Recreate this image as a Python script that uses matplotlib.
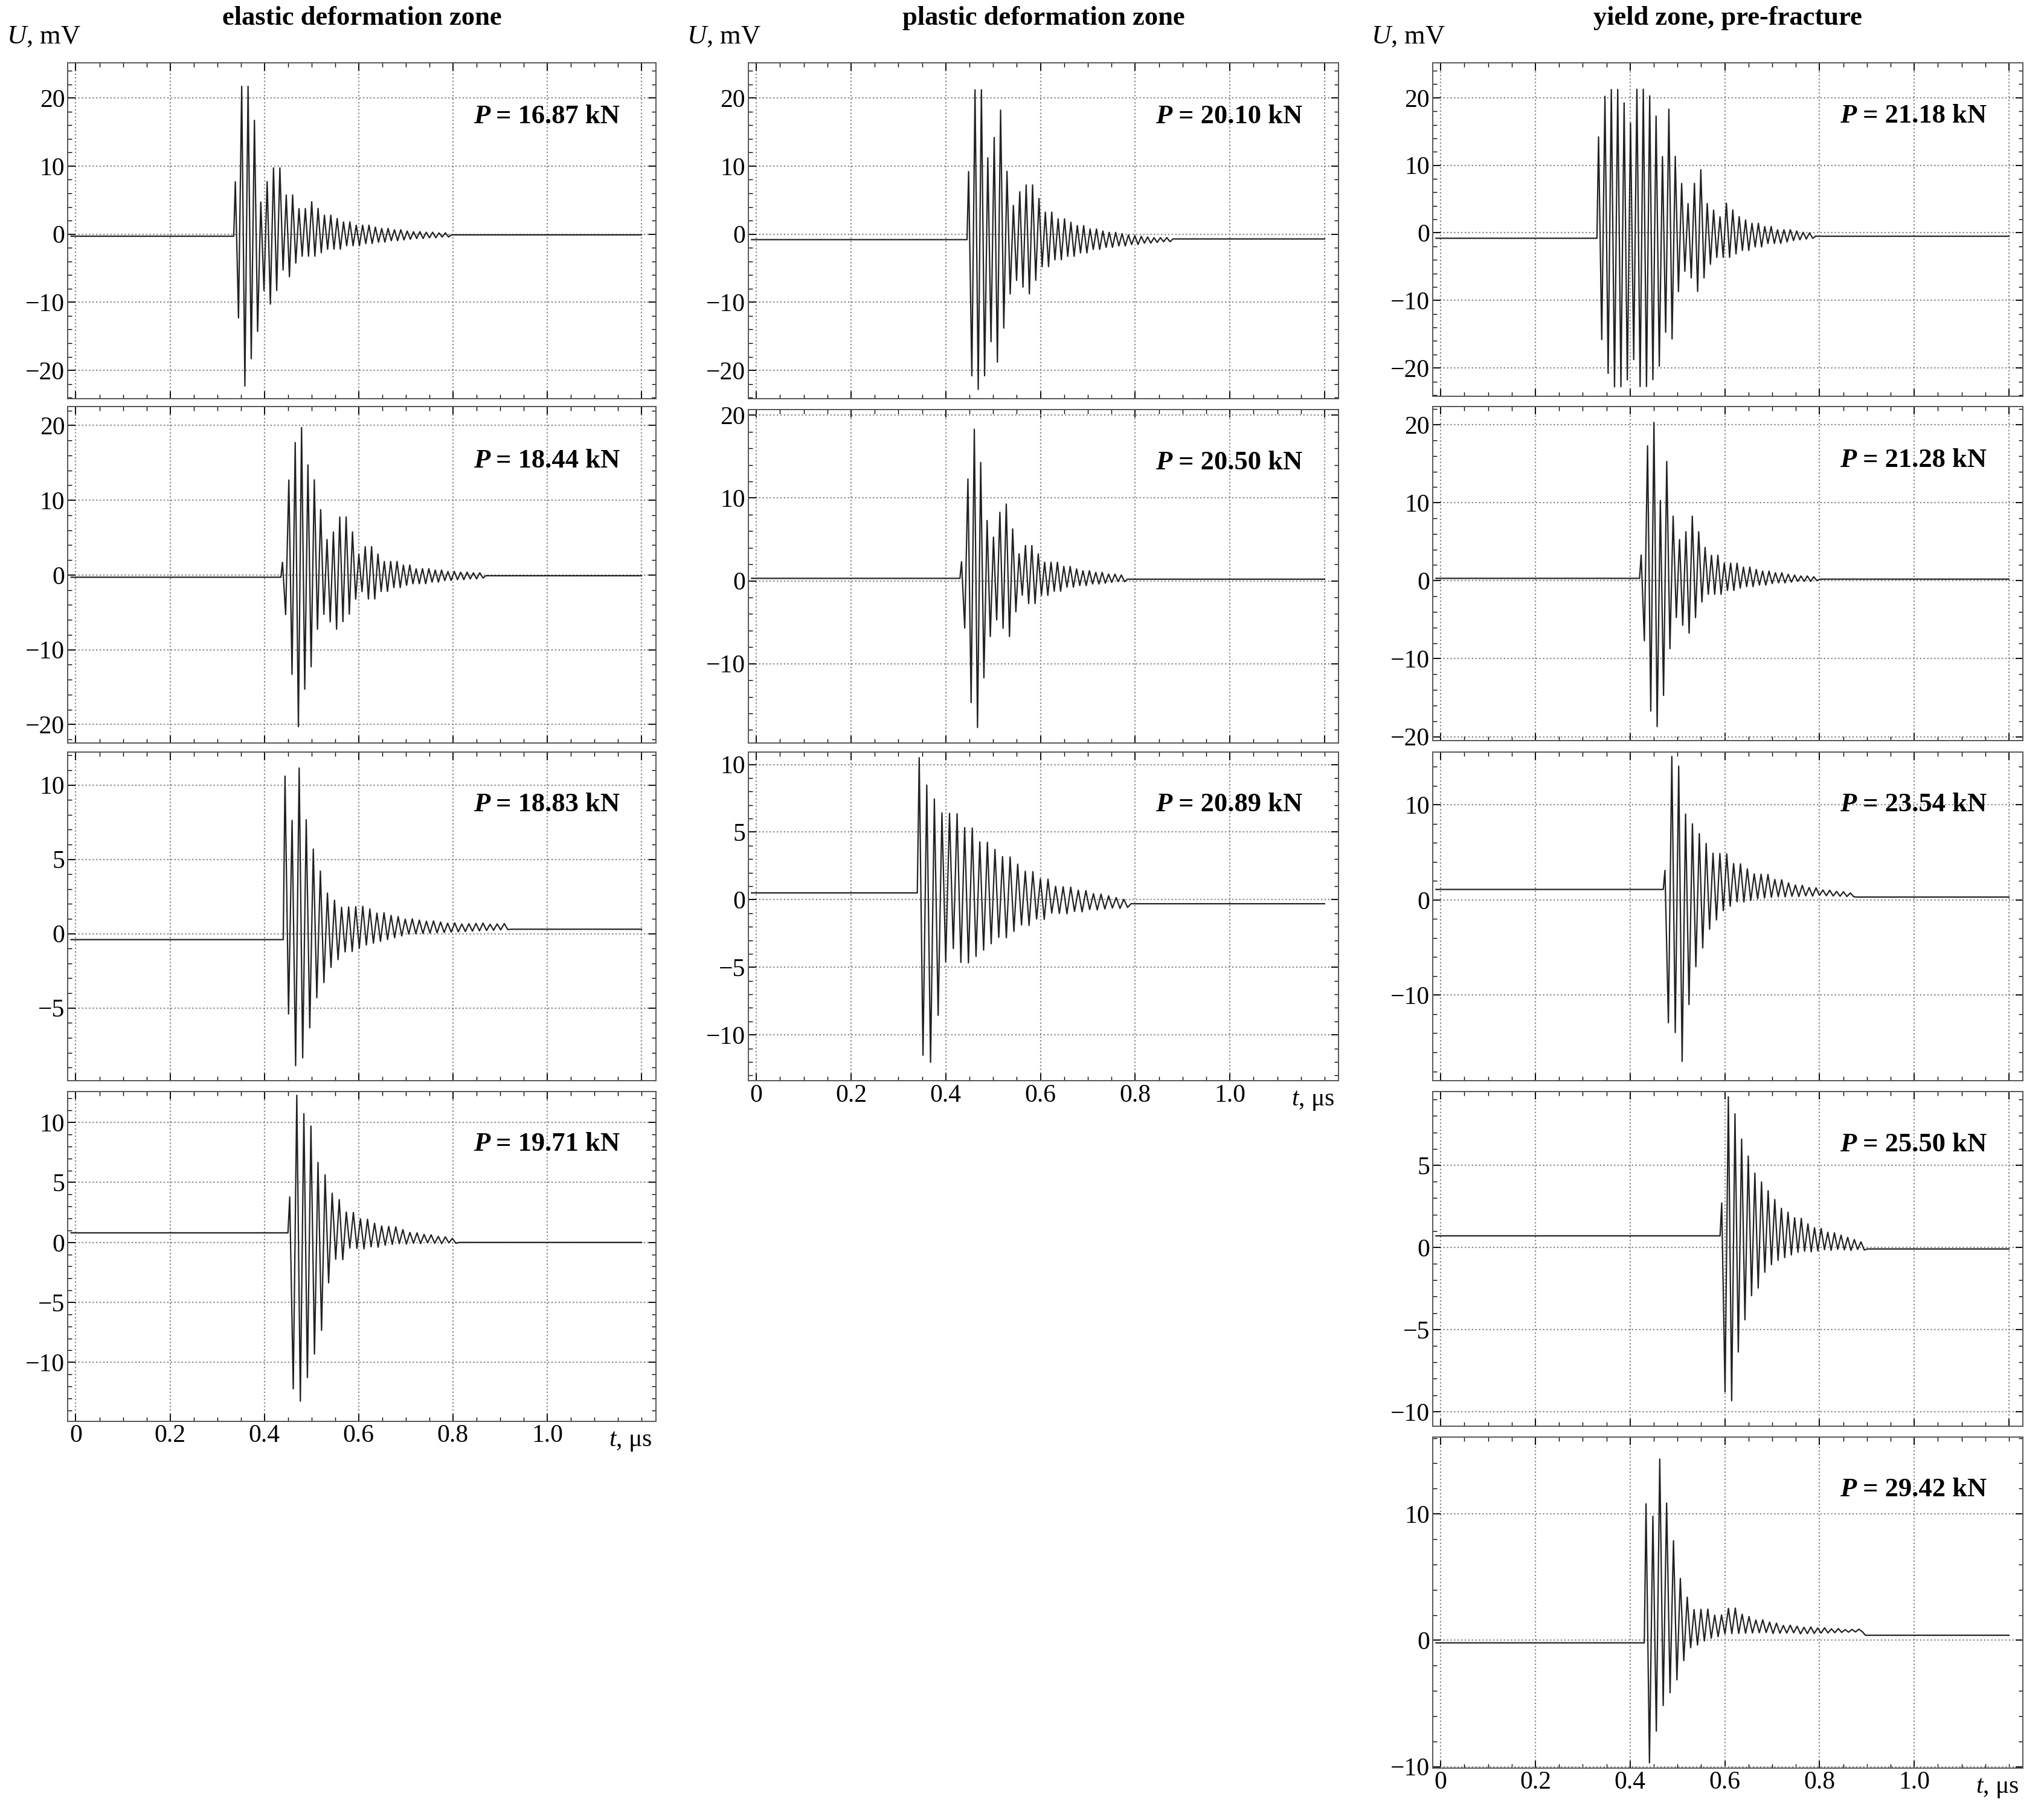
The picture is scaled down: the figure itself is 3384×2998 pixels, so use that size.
import numpy as np
import matplotlib
matplotlib.use("Agg")
import matplotlib.pyplot as plt
from matplotlib.ticker import MultipleLocator

plt.rcParams['font.family'] = ['Liberation Serif', 'DejaVu Serif']
plt.rcParams['mathtext.fontset'] = 'custom'
plt.rcParams['mathtext.it'] = 'Liberation Serif:italic'
plt.rcParams['mathtext.rm'] = 'Liberation Serif'

W, H = 1568, 1389
col_titles = ["elastic deformation zone", "plastic deformation zone", "yield zone, pre-fracture"]

p1_hi = [8,22,22,17,5,8,10,10,6,6,4,4,5,4,3,3,2.5,2,2,1.5,1.5,1.5,1.2,1,1,0.8,0.8,0.6,0.5,0.5,0.4,0.4,0.3,0.3]
p1_lo = [-12,-22,-18,-14,-8,-10,-8,-5,-6,-4,-3,-3,-3,-2.5,-2,-2,-2,-1.5,-1.5,-1.5,-1.2,-1.2,-1,-1,-0.8,-0.8,-0.7,-0.6,-0.5,-0.5,-0.4,-0.4,-0.3,-0.3]
p2_hi = [2,13,18,20,15,13,9,5,6,8,8,6,3,4,4,3,2,2,2,1.5,1.5,1,1,1,0.8,0.8,0.6,0.6,0.5,0.5,0.4,0.4]
p2_lo = [-5,-13,-20,-15,-12,-7,-5,-6,-7,-6,-5,-3,-2,-3,-3,-2,-2,-1.5,-1.5,-1.2,-1,-1,-1,-0.8,-0.8,-0.6,-0.6,-0.5,-0.5,-0.4,-0.4,-0.3]
p3_hi = [11,8,11.5,8,6,4.5,3,2.5,2,2,2,2,1.8,1.5,1.5,1.3,1.2,1,1,0.9,0.8,0.8,0.7,0.6,0.6,0.5,0.5,0.5,0.5,0.4,0.4,0.4]
p3_lo = [-5,-8.5,-8,-6,-4,-3,-2,-1.5,-1,-1,-0.8,-0.6,-0.5,-0.4,-0.3,-0.2,-0.1,0,0,0,0,0,0,0,0,0,0,0,0,0,0,0]
p4_hi = [3,11.5,10,9,6,5,3.5,3,2,2,1.5,1.5,1.2,1,1,1,0.8,0.6,0.6,0.5,0.5,0.4,0.4,0.3]
p4_lo = [-13,-14,-12,-10,-8,-4,-2,-2,-1,-1,-1,-0.8,-0.8,-0.6,-0.5,-0.4,-0.4,-0.3,-0.3,-0.2,-0.2,-0.2,-0.1,-0.1]
p5_hi = [10,22,22,12,15,19,10,5,7,8,8,6,4,4,3,3,2.5,2,2,1.5,1.5,1.2,1,1,0.8,0.6,0.5,0.4,0.3,0.2,0.2,0.2]
p5_lo = [-20,-22,-20,-15,-18,-13,-8,-6,-7,-8,-6,-4,-4,-3,-3,-2.5,-2.5,-2,-2,-1.5,-1.5,-1.2,-1.2,-1,-1,-0.8,-0.8,-0.6,-0.6,-0.5,-0.4,-0.4]
p6_hi = [2,12,18,14,7,5,8,9,6,3,4,4,3,2,2,2,1.5,1.5,1.2,1,1,0.8,0.8,0.6,0.6,0.5]
p6_lo = [-6,-15,-18,-12,-7,-5,-6,-7,-4,-2,-3,-3,-2,-2,-1.5,-1.5,-1,-1,-0.8,-0.8,-0.6,-0.6,-0.5,-0.4,-0.3,-0.3]
p7_hi = [10,8,7,6,6,6,5,5,4,4,3.5,3,3,2.5,2,2,1.5,1.5,1,1,1,0.8,0.8,0.6,0.6,0.5,0.4,0.3]
p7_lo = [-12,-12.5,-9,-5,-4,-5,-5,-4.5,-4,-3.5,-3,-3,-2.5,-2,-2,-1.5,-1.5,-1,-1,-1,-0.8,-0.8,-0.6,-0.6,-0.5,-0.4,-0.4,-0.3]
p8_hi = [15,21,22,22,20,17,22,22,21,18,12,19,12,8,5,8,10,5,4,3,5,4,3,2.5,2,2,1.5,1.5,1,1,1,0.8,0.6,0.5]
p8_lo = [-15,-20,-22,-22,-21,-18,-22,-22,-21,-19,-14,-15,-8,-5,-6,-8,-6,-4,-3,-3,-3,-2.5,-2,-2,-1.5,-1.5,-1,-1,-1,-0.8,-0.6,-0.5,-0.4,-0.3]
p9_hi = [3,17,20,10,15,8,5,6,8,6,4,3,3,2,2,2,1.5,1.5,1.2,1,1,0.8,0.8,0.6,0.5,0.4,0.4,0.3]
p9_lo = [-8,-17,-19,-15,-9,-5,-6,-7,-5,-3,-2,-2,-2,-1.5,-1.5,-1.2,-1,-1,-0.8,-0.8,-0.6,-0.5,-0.5,-0.4,-0.3,-0.3,-0.3,-0.2]
p10_hi = [2,14,13,8,7,6,5,4,4,4,3,3,2.5,2,2,2,1.5,1.5,1.2,1,1,0.8,0.8,0.6,0.6,0.5,0.5,0.4]
p10_lo = [-14,-15,-18,-12,-8,-6,-4,-3,-2,-1.5,-1,-1,-0.8,-0.6,-0.5,-0.4,-0.3,-0.3,-0.2,-0.2,-0.1,-0.1,0,0,0,0,0,0]
p11_hi = [2,8.5,7.5,6,5,4,3.5,3,2.5,2,1.8,1.5,1.5,1.2,1,1,0.8,0.8,0.7,0.6,0.5,0.4]
p11_lo = [-9.5,-10,-7,-5,-3.5,-3,-2,-1.5,-1.2,-1,-0.8,-0.6,-0.5,-0.5,-0.4,-0.3,-0.3,-0.2,-0.2,-0.2,-0.1,-0.1]
p12_hi = [11,10,14.5,11,8,5,3.5,2.5,2.5,2.5,2,2,2.5,2.5,2,1.8,1.5,1.5,1.3,1.2,1,1,0.9,0.8,0.8,0.7,0.7,0.6,0.6,0.5,0.5,0.5]
p12_lo = [-9.5,-7,-5,-4,-3,-1.5,-0.5,-0.3,0,0.2,0.3,0.5,0.5,0.5,0.5,0.5,0.5,0.5,0.4,0.4,0.4,0.4,0.3,0.3,0.3,0.3,0.3,0.3,0.3,0.3,0.3,0.3]

loads = ["16.87","18.44","18.83","19.71","20.10","20.50","20.89","21.18","21.28","23.54","25.50","29.42"]
boxes = [(52,48,503,306),(52,312,503,570),(52,577,503,829),(52,837,503,1090),
         (574,48,1027,306),(574,314,1027,570),(574,577,1027,829),
         (1099,48,1552,304),(1099,312,1552,568),(1099,577,1552,829),(1099,837,1552,1094),(1099,1102,1552,1356)]
ylims = [(-24.2,25.2),(-22.5,22.5),(-9.9,12.2),(-14.9,12.6),(-24.2,25.2),(-19.6,20.7),(-13.4,10.9),
         (-24.2,25.2),(-20.5,22.3),(-19,15.5),(-10.9,9.5),(-10.1,16.1)]
ymaj = [10,10,5,5,10,10,5,10,10,10,5,10]
baselines = [-0.3,-0.3,-0.4,0.8,-0.8,0.3,0.5,-0.8,0.3,1.1,0.7,-0.2]
ends = [-0.1,-0.1,0.3,0.0,-0.7,0.2,-0.3,-0.5,0.2,0.3,-0.1,0.4]
onsets = [0.335,0.435,0.44,0.45,0.445,0.43,0.34,0.33,0.42,0.47,0.59,0.43]
periods = [0.0135,0.0135,0.015,0.015,0.0135,0.0135,0.016,0.0135,0.0135,0.0145,0.014,0.0145]
his = [p1_hi,p2_hi,p3_hi,p4_hi,p5_hi,p6_hi,p7_hi,p8_hi,p9_hi,p10_hi,p11_hi,p12_hi]
los = [p1_lo,p2_lo,p3_lo,p4_lo,p5_lo,p6_lo,p7_lo,p8_lo,p9_lo,p10_lo,p11_lo,p12_lo]
bottom_panels = {3,6,11}

fig = plt.figure(figsize=(33.84, 29.98), dpi=100)
FS = 30

for i in range(12):
    x0, y0, x1, y1 = boxes[i]
    ax = fig.add_axes([x0/W, 1-y1/H, (x1-x0)/W, (y1-y0)/H])
    hi, lo = his[i], los[i]
    t0, T = onsets[i], periods[i]
    ts = [-0.01, t0]; vs = [baselines[i], baselines[i]]
    n = len(hi)
    for k in range(n):
        b = baselines[i]*(1-k/n) + ends[i]*k/n
        ts += [t0 + T*(k+0.25), t0 + T*(k+0.75)]
        vs += [hi[k] + b, lo[k] + b]
    ts += [t0 + T*(n+0.2), 1.2]; vs += [ends[i], ends[i]]
    ax.plot(ts, vs, color='#222222', lw=1.6)
    ax.set_xlim(-0.017, 1.23)
    ax.xaxis.set_major_locator(MultipleLocator(0.2))
    ax.xaxis.set_minor_locator(MultipleLocator(0.05))
    ax.yaxis.set_major_locator(MultipleLocator(ymaj[i]))
    ax.yaxis.set_minor_locator(MultipleLocator(ymaj[i]/5))
    ax.set_ylim(*ylims[i])
    ax.grid(True, which='major', ls=':', color='#888888', lw=1.6)
    ax.tick_params(which='both', direction='in', top=True, right=True, labelsize=FS)
    ax.tick_params(which='major', length=9, width=1.3)
    ax.tick_params(which='minor', length=5, width=1.0)
    for s in ax.spines.values():
        s.set_color('#555555'); s.set_linewidth(1.4)
    ax.set_yticks(ax.get_yticks())
    ax.set_yticklabels([f"{v:g}".replace('-', '\u2212') for v in ax.get_yticks()])
    ax.set_ylim(*ylims[i])
    if i in bottom_panels:
        ax.set_xticks([0,0.2,0.4,0.6,0.8,1.0])
        ax.set_xticklabels(["0","0.2","0.4","0.6","0.8","1.0"])
        ax.text(1.13, -0.025, r"$t$, μs", transform=ax.get_xaxis_transform(), fontsize=FS, ha='left', va='top')
    else:
        ax.tick_params(labelbottom=False)
    ax.text(0.69, 0.84, "P", transform=ax.transAxes, fontsize=FS+2,
            fontweight='bold', fontstyle='italic', ha='left', va='center')
    ax.text(0.717, 0.84, f" = {loads[i]} kN", transform=ax.transAxes, fontsize=FS+2,
            fontweight='bold', ha='left', va='center')

col_x = [52, 574, 1099]
for c in range(3):
    bx = boxes[[0,4,7][c]]
    xc = (bx[0] + bx[2]) / 2
    fig.text(xc/W, 1-14/H, col_titles[c], fontsize=FS+2, fontweight='bold', ha='center', va='center')
    fig.text((col_x[c]-47)/W, 1-28/H, r"$U$, mV", fontsize=FS+2, ha='left', va='center')

fig.savefig("out.png", dpi=100, facecolor='white')
